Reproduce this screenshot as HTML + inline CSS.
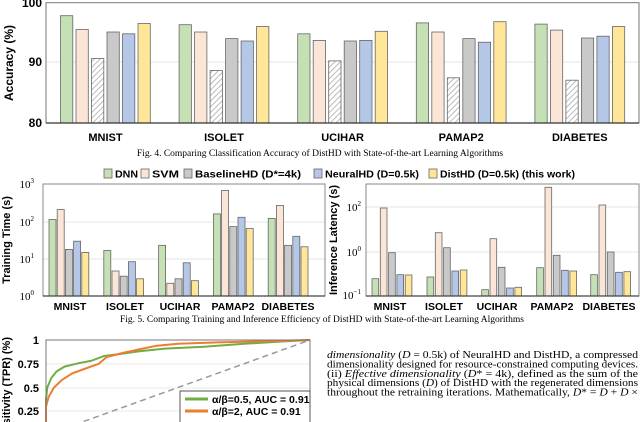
<!DOCTYPE html>
<html><head><meta charset="utf-8"><style>
html,body{margin:0;padding:0;background:#fff;width:640px;height:422px;overflow:hidden}
svg{display:block}
.s{font-family:"Liberation Sans",sans-serif;font-weight:bold}
.r{font-family:"Liberation Serif",serif}
.b rect{stroke:#666;stroke-width:0.8}
</style></head><body>
<svg width="640" height="422" viewBox="0 0 640 422" xmlns="http://www.w3.org/2000/svg" overflow="hidden">
<defs><pattern id="h" width="4" height="4" patternUnits="userSpaceOnUse" patternTransform="rotate(45)"><rect width="4" height="4" fill="#fff"/><line x1="0" y1="0" x2="0" y2="4" stroke="#aaa" stroke-width="1.6"/></pattern>
<clipPath id="c"><rect x="0" y="0" width="640" height="422"/></clipPath></defs>

<!-- Fig 4 -->
<line x1="46" y1="62" x2="639" y2="62" stroke="#e4e4e4"/>
<g class="b">
<rect x="60.5" y="15.7" width="12.3" height="107.3" fill="#c5e0b4"/><rect x="76" y="29.5" width="12.3" height="93.5" fill="#fbe5d6"/><rect x="91.5" y="58.5" width="12.3" height="64.5" fill="url(#h)"/><rect x="107" y="32" width="12.3" height="91" fill="#c9c9c9"/><rect x="122.5" y="33.8" width="12.3" height="89.2" fill="#b4c7e7"/><rect x="138" y="23.5" width="12.3" height="99.5" fill="#ffe699"/>
<rect x="179.1" y="24.7" width="12.3" height="98.3" fill="#c5e0b4"/><rect x="194.6" y="32" width="12.3" height="91" fill="#fbe5d6"/><rect x="210.1" y="70.5" width="12.3" height="52.5" fill="url(#h)"/><rect x="225.6" y="38.6" width="12.3" height="84.4" fill="#c9c9c9"/><rect x="241.1" y="41" width="12.3" height="82" fill="#b4c7e7"/><rect x="256.6" y="26.5" width="12.3" height="96.5" fill="#ffe699"/>
<rect x="297.7" y="33.8" width="12.3" height="89.2" fill="#c5e0b4"/><rect x="313.2" y="40.4" width="12.3" height="82.6" fill="#fbe5d6"/><rect x="328.7" y="60.9" width="12.3" height="62.1" fill="url(#h)"/><rect x="344.2" y="41" width="12.3" height="82" fill="#c9c9c9"/><rect x="359.7" y="40.4" width="12.3" height="82.6" fill="#b4c7e7"/><rect x="375.2" y="31.3" width="12.3" height="91.7" fill="#ffe699"/>
<rect x="416.3" y="22.9" width="12.3" height="100.1" fill="#c5e0b4"/><rect x="431.8" y="32" width="12.3" height="91" fill="#fbe5d6"/><rect x="447.3" y="77.8" width="12.3" height="45.2" fill="url(#h)"/><rect x="462.8" y="38.6" width="12.3" height="84.4" fill="#c9c9c9"/><rect x="478.3" y="42.2" width="12.3" height="80.8" fill="#b4c7e7"/><rect x="493.8" y="21.7" width="12.3" height="101.3" fill="#ffe699"/>
<rect x="534.9" y="24.1" width="12.3" height="98.9" fill="#c5e0b4"/><rect x="550.4" y="30.1" width="12.3" height="92.9" fill="#fbe5d6"/><rect x="565.9" y="80.2" width="12.3" height="42.8" fill="url(#h)"/><rect x="581.4" y="38" width="12.3" height="85" fill="#c9c9c9"/><rect x="596.9" y="36.2" width="12.3" height="86.8" fill="#b4c7e7"/><rect x="612.4" y="26.5" width="12.3" height="96.5" fill="#ffe699"/>
</g>
<rect x="46" y="2.7" width="593" height="120.3" fill="none" stroke="#777" stroke-width="1"/>
<line x1="46" y1="123" x2="639" y2="123" stroke="#333" stroke-width="1.2"/>
<g class="s" font-size="12" text-anchor="end"><text x="42" y="7">100</text><text x="42" y="66">90</text><text x="42" y="127">80</text></g>
<text class="s" font-size="12" transform="translate(13,63) rotate(-90)" text-anchor="middle">Accuracy (%)</text>
<g class="s" font-size="11" text-anchor="middle"><text x="105.5" y="141">MNIST</text><text x="224" y="141">ISOLET</text><text x="342.6" y="141">UCIHAR</text><text x="461.2" y="141">PAMAP2</text><text x="579.8" y="141">DIABETES</text></g>
<text class="r" font-size="9.5" x="320" y="156" text-anchor="middle">Fig. 4.  Comparing Classification Accuracy of DistHD with State-of-the-art Learning Algorithms</text>

<!-- legend -->
<g class="b"><rect x="104" y="169" width="8" height="9" fill="#c5e0b4"/><rect x="141" y="169" width="8" height="9" fill="#fbe5d6"/><rect x="184" y="169" width="8" height="9" fill="#c9c9c9"/><rect x="314" y="169" width="8" height="9" fill="#b4c7e7"/><rect x="429" y="169" width="8" height="9" fill="#ffe699"/></g>
<g class="s" font-size="10.5" font-weight="normal"><text x="115" y="177.5" textLength="23" lengthAdjust="spacingAndGlyphs">DNN</text><text x="152" y="177.5" textLength="27" lengthAdjust="spacingAndGlyphs">SVM</text><text x="195" y="177.5" textLength="106" lengthAdjust="spacingAndGlyphs">BaselineHD (D*=4k)</text><text x="325" y="177.5" textLength="94" lengthAdjust="spacingAndGlyphs">NeuralHD (D=0.5k)</text><text x="440" y="177.5" textLength="135" lengthAdjust="spacingAndGlyphs">DistHD (D=0.5k) (this work)</text></g>

<!-- Fig 5 left -->
<g stroke="#e6e6e6"><line x1="43" y1="222" x2="325" y2="222"/><line x1="43" y1="259" x2="325" y2="259"/></g>
<g class="b">
<rect x="49" y="219.5" width="7" height="76.5" fill="#c5e0b4"/><rect x="57.2" y="209.5" width="7" height="86.5" fill="#fbe5d6"/><rect x="65.4" y="249.4" width="7" height="46.6" fill="#c9c9c9"/><rect x="73.6" y="241.2" width="7" height="54.8" fill="#b4c7e7"/><rect x="81.8" y="252.4" width="7" height="43.6" fill="#ffe699"/>
<rect x="103.8" y="250.5" width="7" height="45.5" fill="#c5e0b4"/><rect x="112" y="271" width="7" height="25" fill="#fbe5d6"/><rect x="120.2" y="276.2" width="7" height="19.8" fill="#c9c9c9"/><rect x="128.4" y="261.7" width="7" height="34.3" fill="#b4c7e7"/><rect x="136.6" y="278.8" width="7" height="17.2" fill="#ffe699"/>
<rect x="158.6" y="245.3" width="7" height="50.7" fill="#c5e0b4"/><rect x="166.8" y="283.3" width="7" height="12.7" fill="#fbe5d6"/><rect x="175" y="278.8" width="7" height="17.2" fill="#c9c9c9"/><rect x="183.2" y="262.8" width="7" height="33.2" fill="#b4c7e7"/><rect x="191.4" y="280.7" width="7" height="15.3" fill="#ffe699"/>
<rect x="213.4" y="213.9" width="7" height="82.1" fill="#c5e0b4"/><rect x="221.6" y="190.4" width="7" height="105.6" fill="#fbe5d6"/><rect x="229.8" y="226.6" width="7" height="69.4" fill="#c9c9c9"/><rect x="238" y="217.3" width="7" height="78.7" fill="#b4c7e7"/><rect x="246.2" y="228.5" width="7" height="67.5" fill="#ffe699"/>
<rect x="268.2" y="218.4" width="7" height="77.6" fill="#c5e0b4"/><rect x="276.4" y="205.4" width="7" height="90.6" fill="#fbe5d6"/><rect x="284.6" y="245.3" width="7" height="50.7" fill="#c9c9c9"/><rect x="292.8" y="236.3" width="7" height="59.7" fill="#b4c7e7"/><rect x="301" y="246.8" width="7" height="49.2" fill="#ffe699"/>
</g>
<rect x="43" y="184" width="282" height="112" fill="none" stroke="#888"/>
<line x1="43" y1="296" x2="325" y2="296" stroke="#444" stroke-width="1.2"/>
<g class="r" font-size="11" text-anchor="end"><text x="34" y="188">10<tspan font-size="7" dy="-5">3</tspan></text><text x="34" y="226">10<tspan font-size="7" dy="-5">2</tspan></text><text x="34" y="263">10<tspan font-size="7" dy="-5">1</tspan></text><text x="34" y="300">10<tspan font-size="7" dy="-5">0</tspan></text></g>
<text class="s" font-size="11" transform="translate(10,240) rotate(-90)" text-anchor="middle">Training Time (s)</text>
<g class="s" font-size="10.5" text-anchor="middle"><text x="70" y="310">MNIST</text><text x="125" y="310">ISOLET</text><text x="180" y="310">UCIHAR</text><text x="233" y="310">PAMAP2</text><text x="288" y="310">DIABETES</text></g>

<!-- Fig 5 right -->
<g stroke="#e6e6e6"><line x1="366" y1="207" x2="639" y2="207"/><line x1="366" y1="252" x2="639" y2="252"/></g>
<g class="b">
<rect x="372" y="278.7" width="6.7" height="17.3" fill="#c5e0b4"/><rect x="380.3" y="208" width="6.7" height="88" fill="#fbe5d6"/><rect x="388.6" y="252.7" width="6.7" height="43.3" fill="#c9c9c9"/><rect x="396.9" y="274.7" width="6.7" height="21.3" fill="#b4c7e7"/><rect x="405.2" y="275" width="6.7" height="21" fill="#ffe699"/>
<rect x="427" y="277" width="6.7" height="19" fill="#c5e0b4"/><rect x="435.3" y="232.7" width="6.7" height="63.3" fill="#fbe5d6"/><rect x="443.6" y="247.7" width="6.7" height="48.3" fill="#c9c9c9"/><rect x="451.9" y="271" width="6.7" height="25" fill="#b4c7e7"/><rect x="460.2" y="270" width="6.7" height="26" fill="#ffe699"/>
<rect x="481.7" y="289.7" width="6.7" height="6.3" fill="#c5e0b4"/><rect x="490" y="238.7" width="6.7" height="57.3" fill="#fbe5d6"/><rect x="498.3" y="267.3" width="6.7" height="28.7" fill="#c9c9c9"/><rect x="506.6" y="288" width="6.7" height="8" fill="#b4c7e7"/><rect x="514.9" y="287.3" width="6.7" height="8.7" fill="#ffe699"/>
<rect x="536.7" y="267.7" width="6.7" height="28.3" fill="#c5e0b4"/><rect x="545" y="187.3" width="6.7" height="108.7" fill="#fbe5d6"/><rect x="553.3" y="255.3" width="6.7" height="40.7" fill="#c9c9c9"/><rect x="561.6" y="270.3" width="6.7" height="25.7" fill="#b4c7e7"/><rect x="569.9" y="271" width="6.7" height="25" fill="#ffe699"/>
<rect x="590.7" y="274.7" width="6.7" height="21.3" fill="#c5e0b4"/><rect x="599" y="205" width="6.7" height="91" fill="#fbe5d6"/><rect x="607.3" y="252" width="6.7" height="44" fill="#c9c9c9"/><rect x="615.6" y="272.3" width="6.7" height="23.7" fill="#b4c7e7"/><rect x="623.9" y="271.7" width="6.7" height="24.3" fill="#ffe699"/>
</g>
<rect x="366" y="184" width="273" height="112" fill="none" stroke="#888"/>
<line x1="366" y1="296" x2="639" y2="296" stroke="#444" stroke-width="1.2"/>
<g class="r" font-size="11" text-anchor="end"><text x="361" y="211">10<tspan font-size="7" dy="-5">2</tspan></text><text x="361" y="256">10<tspan font-size="7" dy="-5">0</tspan></text><text x="361" y="299">10<tspan font-size="7" dy="-5">−1</tspan></text></g>
<text class="s" font-size="11" transform="translate(337,240) rotate(-90)" text-anchor="middle">Inference Latency (s)</text>
<g class="s" font-size="10.5" text-anchor="middle"><text x="390" y="310">MNIST</text><text x="444" y="310">ISOLET</text><text x="497" y="310">UCIHAR</text><text x="552" y="310">PAMAP2</text><text x="609" y="310">DIABETES</text></g>
<text class="r" font-size="9.5" x="322" y="322" text-anchor="middle">Fig. 5.  Comparing Training and Inference Efficiency of DistHD with State-of-the-art Learning Algorithms</text>

<!-- ROC -->
<g clip-path="url(#c)">
<g stroke="#e8e8e8"><line x1="46" y1="364" x2="310" y2="364"/><line x1="46" y1="388" x2="310" y2="388"/><line x1="46" y1="411" x2="310" y2="411"/></g>
<line x1="46" y1="435" x2="310" y2="340" stroke="#999" stroke-width="1.5" stroke-dasharray="6,4"/>
<polyline fill="none" stroke="#70ad47" stroke-width="2" points="46,435 46,399 47.3,387.5 51.3,378 56.6,371.4 64.5,366.6 72.4,364.7 80.3,362.8 91,360.9 104,356 120,354 138.4,351.4 164.8,348.6 204,346.7 244,343.8 283.6,341.4 310,340"/>
<polyline fill="none" stroke="#ed7d31" stroke-width="2" points="46,435 46,406.5 48.6,397 54,387.5 61.8,380 72.4,373.3 85.6,368.5 98.8,363.8 106.7,357 125,352.4 138.4,349.5 157,345.7 178,343.8 217.6,342.4 257,341.4 310,340"/>
<path d="M46,422 V340 H310 V422" fill="none" stroke="#777"/>
<path d="M180,422 V391 H310 V422" fill="#fff" stroke="#555"/>
</g>
<line x1="185" y1="399" x2="208" y2="399" stroke="#70ad47" stroke-width="3"/>
<line x1="185" y1="411" x2="208" y2="411" stroke="#ed7d31" stroke-width="3"/>
<g class="s" font-size="10.5"><text x="212" y="403">α/β=0.5, AUC = 0.91</text><text x="212" y="415">α/β=2, AUC = 0.91</text></g>
<g class="s" font-size="11" text-anchor="end"><text x="39" y="344">1</text><text x="39" y="368">0.75</text><text x="39" y="392">0.5</text><text x="39" y="415">0.25</text></g>
<text class="s" font-size="11" transform="translate(10,337) rotate(-90)" text-anchor="end">Sensitivity (TPR) (%)</text>

<!-- body text -->
<g class="r" font-size="11">
<text x="327" y="358" textLength="311" lengthAdjust="spacingAndGlyphs"><tspan font-style="italic">dimensionality</tspan> (<tspan font-style="italic">D</tspan> = 0.5k) of NeuralHD and DistHD, a compressed</text>
<text x="327" y="367.5" textLength="311" lengthAdjust="spacingAndGlyphs">dimensionality designed for resource-constrained computing devices.</text>
<text x="327" y="377" textLength="311" lengthAdjust="spacingAndGlyphs">(ii) <tspan font-style="italic">Effective dimensionality</tspan> (<tspan font-style="italic">D</tspan>* = 4k), defined as the sum of the</text>
<text x="327" y="386" textLength="311" lengthAdjust="spacingAndGlyphs">physical dimensions (<tspan font-style="italic">D</tspan>) of DistHD with the regenerated dimensions</text>
<text x="327" y="395.5" textLength="311" lengthAdjust="spacingAndGlyphs">throughout the retraining iterations. Mathematically, <tspan font-style="italic">D</tspan>* = <tspan font-style="italic">D</tspan> + <tspan font-style="italic">D</tspan> ×</text>
</g>
</svg>
</body></html>
